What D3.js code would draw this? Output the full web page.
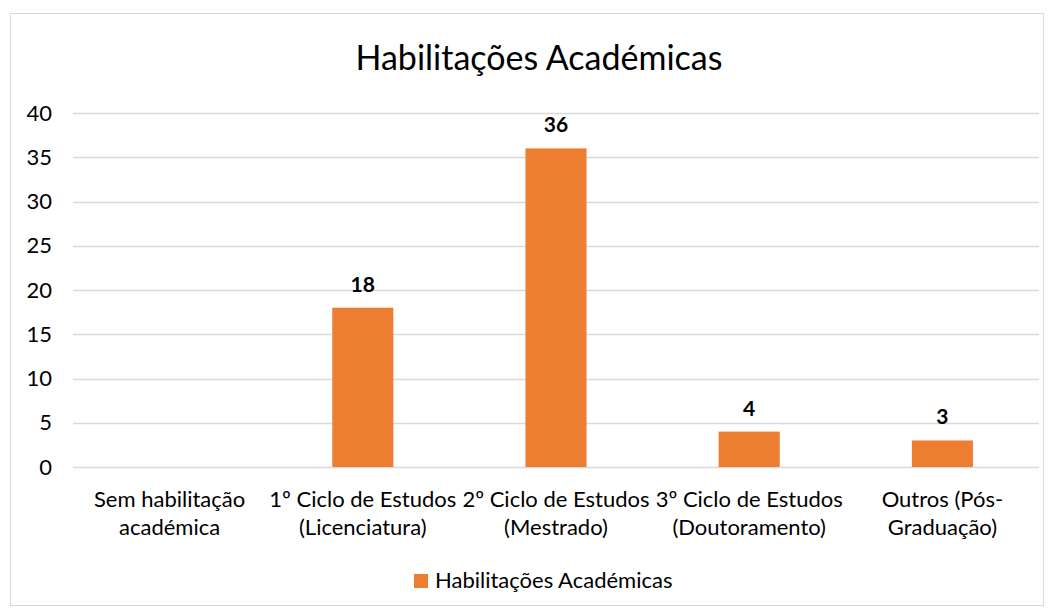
<!DOCTYPE html>
<html>
<head>
<meta charset="utf-8">
<script src="https://cdn.jsdelivr.net/npm/d3@7"></script>
<style>
  body { margin: 0; background: #fff; }
  text { font-family: Lato, "Open Sans", sans-serif; }
</style>
</head>
<body>
<div id="chart"></div>
<script>
// data
const categories = [
  ['Sem habilitação', 'académica'],
  ['1º Ciclo de Estudos', '(Licenciatura)'],
  ['2º Ciclo de Estudos', '(Mestrado)'],
  ['3º Ciclo de Estudos', '(Doutoramento)'],
  ['Outros (Pós-', 'Graduação)']
]
const values = [0, 18, 36, 4, 3]
const yTicks = [0, 5, 10, 15, 20, 25, 30, 35, 40]
const title = 'Habilitações Académicas'
const seriesName = 'Habilitações Académicas'

var width = 1054, height = 611
var margin = {left: 73, right: 15, top: 113, bottom: 144}
var orange = '#ED7D31'

var svg = d3.select('#chart').append('svg')
  .attr('width', width)
  .attr('height', height)

// outer chart border
svg.append('rect')
  .attr('x', 10.5).attr('y', 13.5)
  .attr('width', 1033).attr('height', 592)
  .attr('fill', '#fff')
  .attr('stroke', '#D9D9D9')

var x = d3.scaleBand()
  .domain(d3.range(categories.length))
  .range([margin.left, width - margin.right])
  .padding(0)

var y = d3.scaleLinear()
  .domain([0, 40])
  .range([height - margin.bottom, margin.top])

// gridlines
svg.append('g')
  .selectAll('line')
  .data(yTicks)
  .enter()
  .append('line')
  .attr('x1', margin.left)
  .attr('x2', width - margin.right)
  .attr('y1', d => Math.round(y(d)) + 0.5)
  .attr('y2', d => Math.round(y(d)) + 0.5)
  .attr('stroke', '#D9D9D9')
  .attr('stroke-width', 1.5)

// y axis labels
var yAxis = d3.axisLeft(y).tickValues(yTicks).tickSize(0).tickPadding(21)
svg.append('g')
  .attr('transform', 'translate(' + margin.left + ',0)')
  .call(yAxis)
  .call(g => g.select('.domain').remove())
  .selectAll('text')
  .attr('font-size', 22)
  .attr('fill', '#000')
  .style('font-family', 'Lato, sans-serif')

// bars
var barW = x.bandwidth() * 0.316
svg.append('g')
  .selectAll('rect')
  .data(values)
  .enter()
  .append('rect')
  .attr('x', (d, i) => x(i) + x.bandwidth() / 2 - barW / 2)
  .attr('y', d => y(d))
  .attr('width', barW)
  .attr('height', d => y(0) - y(d))
  .attr('fill', orange)

// value labels (no label for zero)
svg.append('g')
  .selectAll('text')
  .data(values)
  .enter()
  .filter(d => d > 0)
  .append('text')
  .attr('x', (d, i) => x(values.indexOf(d)) + x.bandwidth() / 2)
  .attr('y', d => y(d) - 16)
  .attr('text-anchor', 'middle')
  .attr('font-size', 21)
  .attr('font-weight', 'bold')
  .attr('fill', '#000')
  .text(d => d)

// category labels, two lines each
var cat = svg.append('g')
  .selectAll('text')
  .data(categories)
  .enter()
  .append('text')
  .attr('text-anchor', 'middle')
  .attr('font-size', 22)
  .attr('fill', '#000')
cat.selectAll('tspan')
  .data((d, i) => d.map(line => ({line, i})))
  .enter()
  .append('tspan')
  .attr('x', d => x(d.i) + x.bandwidth() / 2)
  .attr('y', (d, j) => 507 + j * 28)
  .text(d => d.line)

// title
svg.append('text')
  .attr('x', width / 2 + 12)
  .attr('y', 70)
  .attr('text-anchor', 'middle')
  .attr('font-size', 34)
  .attr('fill', '#000')
  .text(title)

// legend
var legend = svg.append('g')
legend.append('rect')
  .attr('x', 414).attr('y', 574)
  .attr('width', 14).attr('height', 14)
  .attr('fill', orange)
legend.append('text')
  .attr('x', 435).attr('y', 588)
  .attr('font-size', 22)
  .attr('fill', '#000')
  .text(seriesName)
</script>
</body>
</html>
